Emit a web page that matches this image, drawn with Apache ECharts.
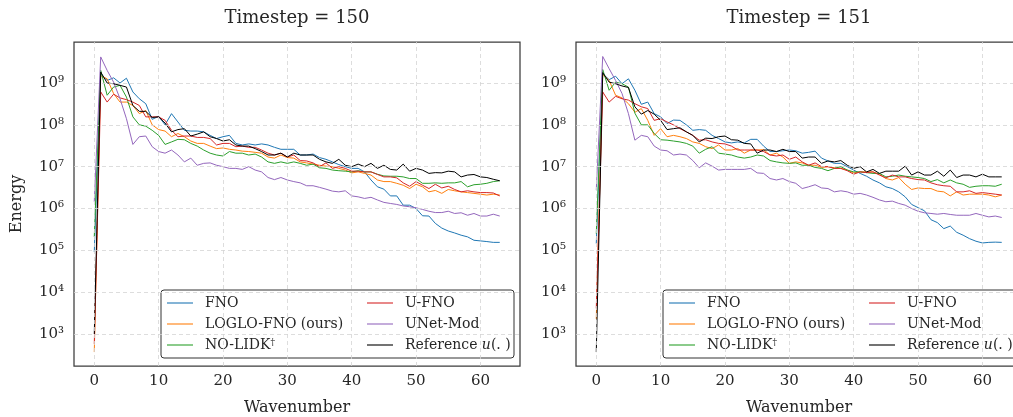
<!DOCTYPE html>
<html><head><meta charset="utf-8">
<script src="https://cdn.jsdelivr.net/npm/echarts@6/dist/echarts.min.js"></script>
<style>html,body{margin:0;padding:0;background:#fff}#c{width:1013px;height:417px}</style>
</head><body><div id="c"></div>
<script>
const wavenumbers = [0,1,2,3,4,5,6,7,8,9,10,11,12,13,14,15,16,17,18,19,20,21,22,23,24,25,26,27,28,29,30,31,
  32,33,34,35,36,37,38,39,40,41,42,43,44,45,46,47,48,49,50,51,52,53,54,55,56,57,58,59,60,61,62,63];
const titles = ['Timestep = 150', 'Timestep = 151'];
const seriesNames = ['FNO', 'LOGLO-FNO (ours)', 'NO-LIDK\u2020', 'U-FNO', 'UNet-Mod', 'Reference u(.)'];
const xTickLabels = [0, 10, 20, 30, 40, 50, 60];
const yTickExponents = [3, 4, 5, 6, 7, 8, 9];

// ---- Timestep 150 ----
const fno150 = [9.1e4,1.67e9,1.15e9,1.33e9,1.0e9,1.3e9,6.1e8,4.2e8,
  3.2e8,1.35e8,1.6e8,1.0e8,1.85e8,1.17e8,7.4e7,7.1e7,
  7.1e7,6.8e7,5.6e7,4.7e7,5.2e7,5.6e7,3.6e7,3.3e7,
  3.5e7,3.3e7,3.5e7,3.3e7,2.9e7,2.6e7,2.6e7,2.6e7,
  1.9e7,1.9e7,2.0e7,1.65e7,1.5e7,1.3e7,1.12e7,1.0e7,
  9.1e6,9.1e6,7.5e6,4.8e6,3.3e6,2.9e6,2.0e6,2.0e6,
  1.2e6,1.2e6,1.0e6,6.7e5,6.6e5,4.4e5,3.4e5,2.9e5,
  2.6e5,2.3e5,2.1e5,1.74e5,1.68e5,1.62e5,1.55e5,1.55e5];
const loglo150 = [3.7e2,1.5e9,1.26e9,5.6e8,3.5e8,3.5e8,2.9e8,1.85e8,
  2.2e8,1.0e8,7.7e7,7.1e7,5.2e7,6.2e7,5.2e7,4.1e7,
  3.6e7,3.6e7,3.1e7,2.7e7,2.8e7,2.6e7,2.5e7,2.35e7,
  2.3e7,2.2e7,2.1e7,1.7e7,1.6e7,1.9e7,1.65e7,1.6e7,
  1.3e7,1.23e7,1.15e7,1.08e7,1.03e7,1.0e7,9.1e6,8.3e6,
  7.1e6,7.5e6,6.9e6,6.3e6,4.8e6,4.4e6,4.4e6,4.0e6,
  3.6e6,3.0e6,3.8e6,3.3e6,2.5e6,2.7e6,2.3e6,2.85e6,
  2.65e6,2.5e6,2.4e6,2.3e6,2.2e6,2.1e6,2.2e6,2.1e6];
const nolidk150 = [2.1e5,2.0e9,5.1e8,8.0e8,8.8e8,4.6e8,1.55e8,1.0e8,
  9.3e7,7.4e7,5.6e7,3.4e7,3.9e7,4.5e7,4.4e7,3.6e7,
  3.1e7,2.5e7,2.1e7,1.9e7,1.8e7,2.3e7,2.1e7,2.1e7,
  1.9e7,2.0e7,1.7e7,1.3e7,1.2e7,1.3e7,1.2e7,1.3e7,
  1.2e7,1.08e7,1.15e7,9.4e6,9.1e6,8.3e6,8.0e6,7.8e6,
  7.5e6,8.0e6,7.5e6,7.5e6,6.6e6,6.0e6,5.9e6,5.9e6,
  5.7e6,5.2e6,5.2e6,4.0e6,4.0e6,4.1e6,4.0e6,4.1e6,
  4.1e6,4.4e6,3.3e6,3.7e6,3.8e6,4.0e6,4.4e6,4.6e6];
const ufno150 = [5.8e2,6.1e8,3.5e8,5.4e8,4.4e8,4.0e8,3.5e8,2.9e8,
  1.55e8,1.55e8,1.55e8,1.28e8,7.4e7,5.2e7,5.4e7,5.4e7,
  5.0e7,5.0e7,4.7e7,3.3e7,3.6e7,3.6e7,3.0e7,3.1e7,
  2.9e7,2.9e7,2.5e7,2.1e7,1.9e7,2.1e7,1.7e7,1.9e7,
  1.4e7,1.37e7,1.23e7,1.0e7,1.23e7,9.1e6,1.0e7,9.1e6,
  7.8e6,7.8e6,7.5e6,7.5e6,6.5e6,5.7e6,5.7e6,5.4e6,
  4.1e6,3.4e6,4.4e6,3.6e6,3.0e6,3.8e6,3.1e6,3.4e6,
  2.85e6,2.5e6,2.65e6,2.5e6,2.4e6,2.4e6,2.35e6,2.0e6];
const unet150 = [1.45e6,4.2e9,2.0e9,1.05e9,4.2e8,1.4e8,3.4e7,5.2e7,
  5.4e7,3.0e7,2.3e7,2.1e7,2.5e7,1.9e7,1.3e7,1.6e7,
  1.08e7,1.2e7,1.23e7,1.08e7,1.0e7,9.1e6,9.1e6,8.6e6,
  1.0e7,8.3e6,7.5e6,5.5e6,4.9e6,5.5e6,4.8e6,4.4e6,
  4.1e6,3.5e6,3.5e6,3.2e6,2.9e6,2.6e6,2.5e6,2.65e6,
  2.0e6,1.9e6,1.74e6,1.85e6,1.6e6,1.4e6,1.32e6,1.25e6,
  1.15e6,1.1e6,1.04e6,9.5e5,8.6e5,8.0e5,8.0e5,8.6e5,
  7.6e5,7.9e5,6.9e5,7.6e5,6.6e5,6.6e5,7.3e5,6.6e5];
const ref150 = [1.0e3,1.83e9,1.0e9,9.6e8,8.8e8,8.0e8,2.9e8,2.1e8,
  2.1e8,1.5e8,1.55e8,1.1e8,6.8e7,7.7e7,8.1e7,5.4e7,
  6.0e7,6.8e7,5.2e7,4.7e7,4.1e7,4.4e7,3.3e7,3.1e7,
  3.1e7,2.7e7,2.3e7,1.9e7,1.9e7,2.1e7,1.7e7,2.1e7,
  1.9e7,1.9e7,1.9e7,1.5e7,1.3e7,1.2e7,1.5e7,1.08e7,
  1.0e7,1.15e7,1.0e7,1.2e7,9.1e6,1.08e7,8.6e6,8.3e6,
  1.15e7,7.8e6,9.1e6,8.3e6,6.9e6,7.2e6,7.1e6,7.8e6,
  7.5e6,5.7e6,6.3e6,6.5e6,5.7e6,5.5e6,5.0e6,4.6e6];

// ---- Timestep 151 ----
const fno151 = [1.45e5,1.67e9,1.2e9,1.45e9,9.6e8,1.26e9,6.7e8,3.1e8,
  3.5e8,1.85e8,1.55e8,1.07e8,1.3e8,1.28e8,1.0e8,7.4e7,
  7.7e7,7.4e7,5.6e7,4.7e7,3.9e7,3.7e7,3.9e7,3.7e7,
  4.5e7,4.5e7,3.1e7,2.3e7,2.3e7,2.4e7,2.5e7,2.4e7,
  2.1e7,2.2e7,2.35e7,1.6e7,1.37e7,1.2e7,1.2e7,1.0e7,
  8.3e6,6.9e6,5.9e6,4.8e6,4.1e6,3.3e6,3.0e6,2.5e6,
  1.9e6,1.25e6,1.05e6,8.8e5,5.4e5,4.6e5,3.3e5,3.8e5,
  2.7e5,2.3e5,1.9e5,1.65e5,1.5e5,1.55e5,1.57e5,1.55e5];
const loglo151 = [2.3e3,1.6e9,1.15e9,5.1e8,4.4e8,3.2e8,2.0e8,2.45e8,
  1.28e8,5.6e7,8.1e7,5.2e7,5.6e7,5.2e7,4.7e7,3.9e7,
  3.6e7,3.0e7,2.7e7,3.3e7,2.5e7,2.5e7,2.7e7,2.1e7,
  2.5e7,2.5e7,2.55e7,1.9e7,2.1e7,1.7e7,1.2e7,1.3e7,
  1.23e7,1.08e7,1.08e7,9.6e6,1.0e7,9.4e6,9.1e6,8.3e6,
  7.1e6,7.5e6,7.5e6,7.5e6,6.6e6,5.2e6,4.8e6,5.5e6,
  3.8e6,2.85e6,3.1e6,3.0e6,3.0e6,2.6e6,2.5e6,2.0e6,
  2.5e6,2.1e6,2.2e6,2.2e6,2.2e6,2.1e6,1.9e6,2.1e6];
const nolidk151 = [2.5e5,2.1e9,6.7e8,1.05e9,9.6e8,8.0e8,1.9e8,1.0e8,
  1.0e8,6.2e7,4.4e7,4.3e7,4.1e7,3.9e7,3.6e7,3.1e7,
  2.1e7,2.6e7,3.0e7,2.1e7,2.0e7,1.9e7,1.7e7,1.6e7,
  1.7e7,1.9e7,1.8e7,1.4e7,1.3e7,1.23e7,1.2e7,1.23e7,
  1.08e7,1.08e7,9.6e6,9.1e6,8.0e6,9.1e6,1.0e7,8.3e6,
  7.5e6,7.5e6,7.2e6,6.9e6,6.9e6,5.7e6,5.9e6,6.3e6,
  5.9e6,5.7e6,5.5e6,5.2e6,4.4e6,4.9e6,4.1e6,4.8e6,
  4.1e6,3.8e6,3.2e6,3.4e6,3.5e6,3.5e6,3.4e6,3.8e6];
const ufno151 = [4.1e3,6.1e8,3.5e8,4.8e8,4.2e8,3.9e8,3.2e8,2.7e8,
  2.45e8,1.28e8,1.4e8,1.17e8,1.0e8,8.1e7,6.8e7,5.6e7,
  4.3e7,4.4e7,3.9e7,3.6e7,3.5e7,3.1e7,2.5e7,2.5e7,
  2.5e7,2.5e7,2.3e7,1.9e7,1.8e7,1.9e7,1.5e7,1.7e7,
  1.3e7,1.08e7,1.23e7,1.0e7,1.0e7,9.1e6,9.1e6,8.0e6,
  6.6e6,7.5e6,7.2e6,7.5e6,6.3e6,5.4e6,6.3e6,5.7e6,
  5.7e6,5.2e6,4.9e6,4.8e6,4.1e6,3.7e6,3.5e6,3.4e6,
  2.5e6,2.5e6,2.65e6,2.3e6,2.4e6,2.3e6,2.2e6,2.1e6];
const unet151 = [2.75e6,4.3e9,2.2e9,1.15e9,5.6e8,1.85e8,4.3e7,5.6e7,
  5.2e7,3.1e7,2.5e7,2.4e7,1.9e7,2.0e7,1.9e7,1.4e7,
  9.4e6,1.23e7,1.03e7,8.3e6,8.6e6,8.6e6,8.6e6,8.6e6,
  9.1e6,7.1e6,6.9e6,5.2e6,4.8e6,5.2e6,4.4e6,4.0e6,
  3.0e6,3.3e6,3.7e6,3.1e6,3.0e6,2.5e6,2.65e6,2.5e6,
  2.2e6,2.3e6,2.1e6,1.85e6,1.6e6,1.45e6,1.5e6,1.32e6,
  1.2e6,1.0e6,8.6e5,7.9e5,7.6e5,7.3e5,7.6e5,7.2e5,
  6.9e5,6.9e5,6.9e5,7.6e5,6.9e5,6.3e5,6.6e5,6.1e5];
const ref151 = [3.7e2,1.77e9,1.05e9,9.6e8,8.5e8,7.8e8,2.7e8,1.8e8,
  2.2e8,1.8e8,1.28e8,7.7e7,8.1e7,8.5e7,6.8e7,5.6e7,
  3.9e7,4.8e7,4.7e7,5.2e7,5.4e7,4.4e7,4.3e7,3.6e7,
  3.5e7,2.1e7,2.5e7,2.5e7,2.3e7,2.6e7,2.3e7,2.3e7,
  1.6e7,1.7e7,1.7e7,1.2e7,1.37e7,1.3e7,1.4e7,1.08e7,
  9.1e6,1.0e7,7.5e6,8.6e6,6.9e6,7.8e6,7.8e6,7.8e6,
  1.03e7,6.3e6,7.5e6,6.3e6,6.3e6,7.8e6,5.9e6,8.3e6,
  5.5e6,6.3e6,6.3e6,5.7e6,6.6e6,5.7e6,5.7e6,5.7e6];

const panels = [
  [fno150, loglo150, nolidk150, ufno150, unet150, ref150],
  [fno151, loglo151, nolidk151, ufno151, unet151, ref151]
];
const colors = ['#1f77b4', '#ff7f0e', '#2ca02c', '#d62728', '#9467bd', '#000000'];

const FONT = 'DejaVu Serif';
const TXT = '#262626';
const gridLefts = [74, 576];
const GRID_TOP = 42, GRID_W = 446, GRID_H = 324;
// the y axis is drawn in decades: log10(Energy)
const Y_MIN = 2.235, Y_MAX = 9.98;
const sup = {'0':'\u2070','1':'\u00b9','2':'\u00b2','3':'\u00b3','4':'\u2074','5':'\u2075','6':'\u2076','7':'\u2077','8':'\u2078','9':'\u2079'};
const GRID_LINE = {type: [4, 3], color: '#d4d4d4', width: 0.8};

const grids = [], xAxes = [], yAxes = [], series = [], titleArr = [], legends = [], graphics = [];
gridLefts.forEach((gl, p) => {
  grids.push({left: gl, top: GRID_TOP, width: GRID_W, height: GRID_H, show: false,
    containLabel: false, outerBoundsMode: 'none'});
  xAxes.push({type: 'value', gridIndex: p, min: -3.15, max: 66.15,
    axisLine: {show: false}, axisTick: {show: false}, splitLine: {show: false},
    axisLabel: {fontFamily: FONT, fontSize: 15, color: TXT, margin: 8, customValues: xTickLabels},
    name: 'Wavenumber', nameLocation: 'middle', nameGap: 34,
    nameTextStyle: {fontFamily: FONT, fontSize: 16, color: TXT}});
  yAxes.push({type: 'value', gridIndex: p, min: Y_MIN, max: Y_MAX,
    axisLine: {show: false}, axisTick: {show: false}, splitLine: {show: false},
    axisLabel: {fontFamily: FONT, fontSize: 15, color: TXT, margin: 10,
      customValues: yTickExponents,
      formatter: v => '10' + String(Math.round(v)).split('').map(c => sup[c]).join('')},
    name: p === 0 ? 'Energy' : '', nameLocation: 'middle', nameGap: 49,
    nameTextStyle: {fontFamily: FONT, fontSize: 16, color: TXT}});
  titleArr.push({text: titles[p], left: gl + GRID_W / 2 - 5, top: 4, textAlign: 'center',
    textStyle: {fontFamily: FONT, fontSize: 18, fontWeight: 'normal', color: TXT}});
  // grid lines at the tick values, through the axes' own scales
  series.push({type: 'line', name: 'grid' + p, xAxisIndex: p, yAxisIndex: p, data: [], z: 1,
    silent: true, animation: false,
    markLine: {silent: true, symbol: ['none', 'none'], label: {show: false}, lineStyle: GRID_LINE,
      animation: false, emphasis: {disabled: true},
      data: yTickExponents.map(e => ({yAxis: e})).concat(xTickLabels.map(x => ({xAxis: x})))}});
  panels[p].forEach((vals, s) => {
    series.push({type: 'line', name: seriesNames[s], xAxisIndex: p, yAxisIndex: p,
      data: wavenumbers.map((k, i) => [k, Math.log10(vals[i])]),
      symbol: 'none', showSymbol: false, color: colors[s], lineStyle: {width: 1, color: colors[s]}, z: 2 + s * 0.01,
      animation: false});
  });
  graphics.push({type: 'rect', z: 3, silent: true,
    shape: {x: gl, y: GRID_TOP, width: GRID_W, height: GRID_H},
    style: {fill: 'none', stroke: '#3c3c3c', lineWidth: 1.25}});
  const boxX = gl + 87, boxY = 290;
  graphics.push({type: 'rect', z: 3, silent: true, shape: {x: boxX, y: boxY, width: 353, height: 68, r: 3},
    style: {fill: 'rgba(255,255,255,0.8)', stroke: '#333', lineWidth: 1}});
  const legCommon = {orient: 'vertical', top: boxY + 1, itemWidth: 26, itemHeight: 14, itemGap: 7, z: 5,
    icon: 'path://M0,6L26,6L26,8L0,8Z', itemStyle: {opacity: 0.55, borderWidth: 0},
    textStyle: {fontFamily: FONT, fontSize: 14, color: TXT, padding: [0, 0, 0, 7],
      rich: {it: {fontFamily: FONT, fontStyle: 'italic', fontSize: 14, color: TXT},
             sup: {fontFamily: FONT, fontSize: 9, color: TXT, verticalAlign: 'top', lineHeight: 14}}},
    formatter: n => n === 'NO-LIDK\u2020' ? 'NO-LIDK{sup|\u2020}' : (n === 'Reference u(.)' ? 'Reference {it|u}(. )' : n),
    selectedMode: false};
  legends.push(Object.assign({}, legCommon, {left: boxX + 1, data: seriesNames.slice(0, 3)}));
  legends.push(Object.assign({}, legCommon, {left: boxX + 201, data: seriesNames.slice(3, 6)}));
});

const chart = echarts.init(document.getElementById('c'), null, {renderer: 'canvas'});
chart.setOption({animation: false, backgroundColor: '#fff', title: titleArr, grid: grids,
  xAxis: xAxes, yAxis: yAxes, series: series, legend: legends, graphic: graphics});
</script></body></html>
